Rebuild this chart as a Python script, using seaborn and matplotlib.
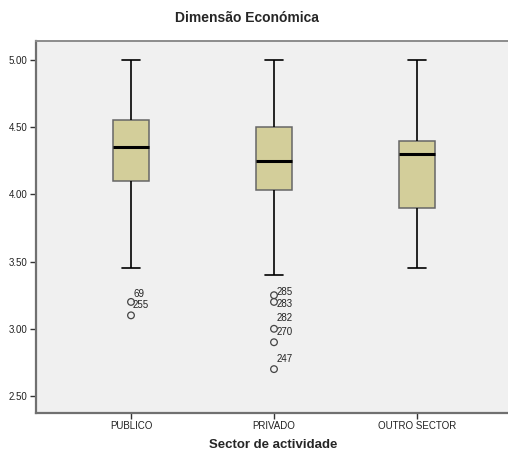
import matplotlib
matplotlib.use("Agg")
import matplotlib.pyplot as plt
import pandas as pd
import seaborn as sns

# Five-number summaries of the economic dimension score by sector
sectors = ["PUBLICO", "PRIVADO", "OUTRO SECTOR"]
whisker_low = [3.45, 3.40, 3.45]
q1 = [4.10, 4.03, 3.90]
median = [4.35, 4.25, 4.30]
q3 = [4.55, 4.50, 4.40]
whisker_high = [5.00, 5.00, 5.00]

# Outlying cases (case number, sector, score)
outlier_sector = ["PUBLICO", "PUBLICO", "PRIVADO", "PRIVADO", "PRIVADO", "PRIVADO", "PRIVADO"]
outlier_value = [3.20, 3.10, 3.25, 3.20, 3.00, 2.90, 2.70]
outlier_case = ["69", "255", "285", "283", "282", "270", "247"]

y_ticks = [2.50, 3.00, 3.50, 4.00, 4.50, 5.00]

sns.set_style("white")
plt.rcParams["font.family"] = ["Liberation Sans", "DejaVu Sans"]

summary = pd.DataFrame({
    "sector": [s for s in sectors for _ in range(5)],
    "value": [v for i in range(len(sectors))
              for v in (whisker_low[i], q1[i], median[i], q3[i], whisker_high[i])],
})
outliers = pd.DataFrame({"sector": outlier_sector, "value": outlier_value})

fig = plt.figure(figsize=(5.08, 4.55), dpi=100)
# plot area runs off the right edge of the figure
ax = fig.add_axes([36 / 508, 1 - 413 / 455, (512 - 36) / 508, (413 - 41) / 455])
ax.set_facecolor("#F0F0F0")

sns.boxplot(
    data=summary, x="sector", y="value", order=sectors, ax=ax,
    whis=(0, 100), showfliers=False, width=0.25, saturation=1,
    color="#D3CE9A", linewidth=1.2,
    boxprops={"edgecolor": "#666666", "linewidth": 1.1},
    whiskerprops={"color": "black", "linewidth": 1.2},
    capprops={"color": "black", "linewidth": 1.2},
    medianprops={"color": "black", "linewidth": 2.2},
)

sns.stripplot(
    data=outliers, x="sector", y="value", order=sectors, ax=ax,
    jitter=False, marker="o", size=4.8, color="#444444",
    facecolor="none", edgecolor="#444444", linewidth=0.9, zorder=5,
)

# Case-number labels, offsets in pixels from each point
label_offsets_px = [(3, 8), (2, 10), (3, 3), (3, -2), (3, 11), (3, 10), (3, 10)]
px = 72 / 100
for case, sec, val, (dx, dy) in zip(outlier_case, outlier_sector, outlier_value, label_offsets_px):
    ax.annotate(case, xy=(sectors.index(sec), val), xytext=(dx * px, dy * px),
                textcoords="offset points", ha="left", va="center",
                fontsize=7, color="#222222")

ax.set_xlim(-95 / 143, 2 + 95 / 143)
ax.set_ylim(2.5 - 17 / 134.4, 5.0 + 19 / 134.4)
ax.set_yticks(y_ticks)
ax.set_yticklabels([f"{t:.2f}" for t in y_ticks])
ax.tick_params(axis="both", direction="out", length=4, width=1, color="#333333",
               labelsize=7, labelcolor="#222222", pad=2, left=True, bottom=True)

for side in ("left", "bottom"):
    ax.spines[side].set_color("#707070")
    ax.spines[side].set_linewidth(1.6)
ax.spines["top"].set_color("#8C8C8C")
ax.spines["top"].set_linewidth(1.4)
ax.spines["right"].set_visible(False)

ax.set_ylabel("")
ax.set_xlabel("Sector de actividade", fontsize=9.5, fontweight="bold", va="center")
ax.xaxis.set_label_coords((273 - 36) / (512 - 36), -(445 - 413) / (413 - 41))
fig.text(247 / 508, 1 - 18 / 455, "Dimensão Económica", ha="center", va="center",
         fontsize=10, fontweight="bold")

fig.savefig("out.png", dpi=100)
